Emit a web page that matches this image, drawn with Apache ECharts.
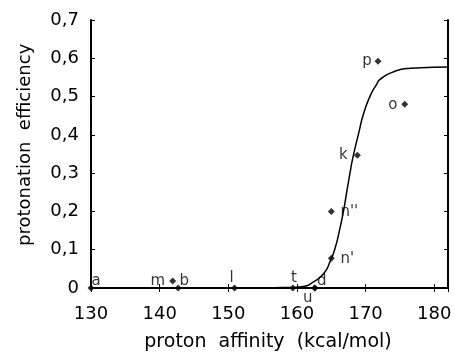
<!DOCTYPE html>
<html>
<head>
<meta charset="utf-8">
<script src="https://cdn.jsdelivr.net/npm/echarts@6/dist/echarts.min.js"></script>
<style>
  html, body { margin: 0; padding: 0; background: #fff; }
  #chart { width: 455px; height: 356px; }
</style>
</head>
<body>
<div id="chart"></div>
<script>
// Measured compounds: label, proton affinity (kcal/mol), protonation efficiency
var pointNames = ['a', 'm', 'b', 'l', 't', 'u', 'd', "n'", "n''", 'k', 'p', 'o'];
var pointPA    = [130, 141.9, 142.7, 150.9, 159.4, 162.6, 162.6, 165.0, 165.0, 168.8, 171.8, 175.7];
var pointEff   = [0, 0.018, 0, 0, 0, 0, 0, 0.078, 0.20, 0.347, 0.592, 0.48];

// Sigmoidal fit curve, sampled
var curvePA  = [130, 150, 155, 158, 160.9, 162.4, 163.9, 164.8, 165.6, 166.2, 166.8, 167.3, 167.8, 168.2, 169.0, 169.7, 170.7, 171.6, 172.1, 174.1, 176.5, 179, 182];
var curveEff = [0, 0, 0.0005, 0.001, 0.004, 0.016, 0.038, 0.068, 0.107, 0.151, 0.203, 0.256, 0.308, 0.345, 0.405, 0.455, 0.503, 0.532, 0.545, 0.565, 0.574, 0.576, 0.577];

var xTicks = [130, 140, 150, 160, 170, 180];
var yTicks = ['0', '0,1', '0,2', '0,3', '0,4', '0,5', '0,6', '0,7'];

// label placement around each marker (pixels from marker centre)
var labelShift = {
  'a': [5, -7], 'm': [-15, 0], 'b': [6, -7], 'l': [-3, -10], 't': [1, -10],
  'u': [-7, 10], 'd': [7, -7], "n'": [16, 1], "n''": [18, 1], 'k': [-14, 0],
  'p': [-11, 0], 'o': [-12, 1]
};

var FONT = 'DejaVu Sans';
var chart = echarts.init(document.getElementById('chart'), null, { renderer: 'canvas' });

var points = pointNames.map(function (n, i) {
  return {
    value: [pointPA[i], pointEff[i]],
    name: n,
    label: { offset: labelShift[n] }
  };
});
var curve = curvePA.map(function (x, i) { return [x, curveEff[i]]; });

var axisLine = { show: true, lineStyle: { color: '#000', width: 2 } };
var tickInside = { show: true, inside: true, length: 4, lineStyle: { color: '#000', width: 1 } };

chart.setOption({
  animation: false,
  backgroundColor: '#fff',
  grid: { left: 91, top: 20, right: 7, bottom: 68, containLabel: false },
  xAxis: [{
    type: 'value', min: 130, max: 182, interval: 10,
    axisLine: axisLine, axisTick: tickInside, splitLine: { show: false },
    axisLabel: {
      color: '#000', fontFamily: FONT, fontSize: 18, margin: 17,
      showMaxLabel: false,
      formatter: function (v) { return xTicks.indexOf(v) >= 0 ? String(v) : ''; }
    }
  }, {
    type: 'value', position: 'top', min: 130, max: 182, interval: 10,
    axisLine: axisLine, axisTick: tickInside, axisLabel: { show: false }, splitLine: { show: false }
  }],
  yAxis: [{
    type: 'value', min: 0, max: 0.7, interval: 0.1,
    axisLine: axisLine, axisTick: tickInside, splitLine: { show: false },
    axisLabel: {
      color: '#000', fontFamily: FONT, fontSize: 18, margin: 12,
      formatter: function (v) { return yTicks[Math.round(v * 10)]; }
    }
  }, {
    type: 'value', position: 'right', min: 0, max: 0.7, interval: 0.1,
    axisLine: axisLine, axisTick: tickInside, axisLabel: { show: false }, splitLine: { show: false }
  }],
  graphic: [{
    type: 'text', x: 268, y: 342,
    style: {
      text: 'proton  affinity  (kcal/mol)', font: '19px "' + FONT + '"', fill: '#000',
      align: 'center', verticalAlign: 'middle'
    }
  }, {
    type: 'text', rotation: Math.PI / 2, x: 16, y: 246,
    style: { text: 'protonation  efficiency', font: '18px "' + FONT + '"', fill: '#000' }
  }],
  series: [{
    type: 'line', data: curve, smooth: 0.6, showSymbol: false,
    lineStyle: { color: '#000', width: 1.5 }, z: 2
  }, {
    type: 'scatter', data: points, symbol: 'diamond', symbolSize: 7,
    itemStyle: { color: '#000' }, z: 3,
    label: {
      show: true, position: 'inside', align: 'center', verticalAlign: 'middle',
      formatter: '{b}', color: '#000', fontFamily: FONT, fontSize: 15,
      textBorderWidth: 0, textBorderColor: 'transparent'
    }
  }]
});
</script>
</body>
</html>
